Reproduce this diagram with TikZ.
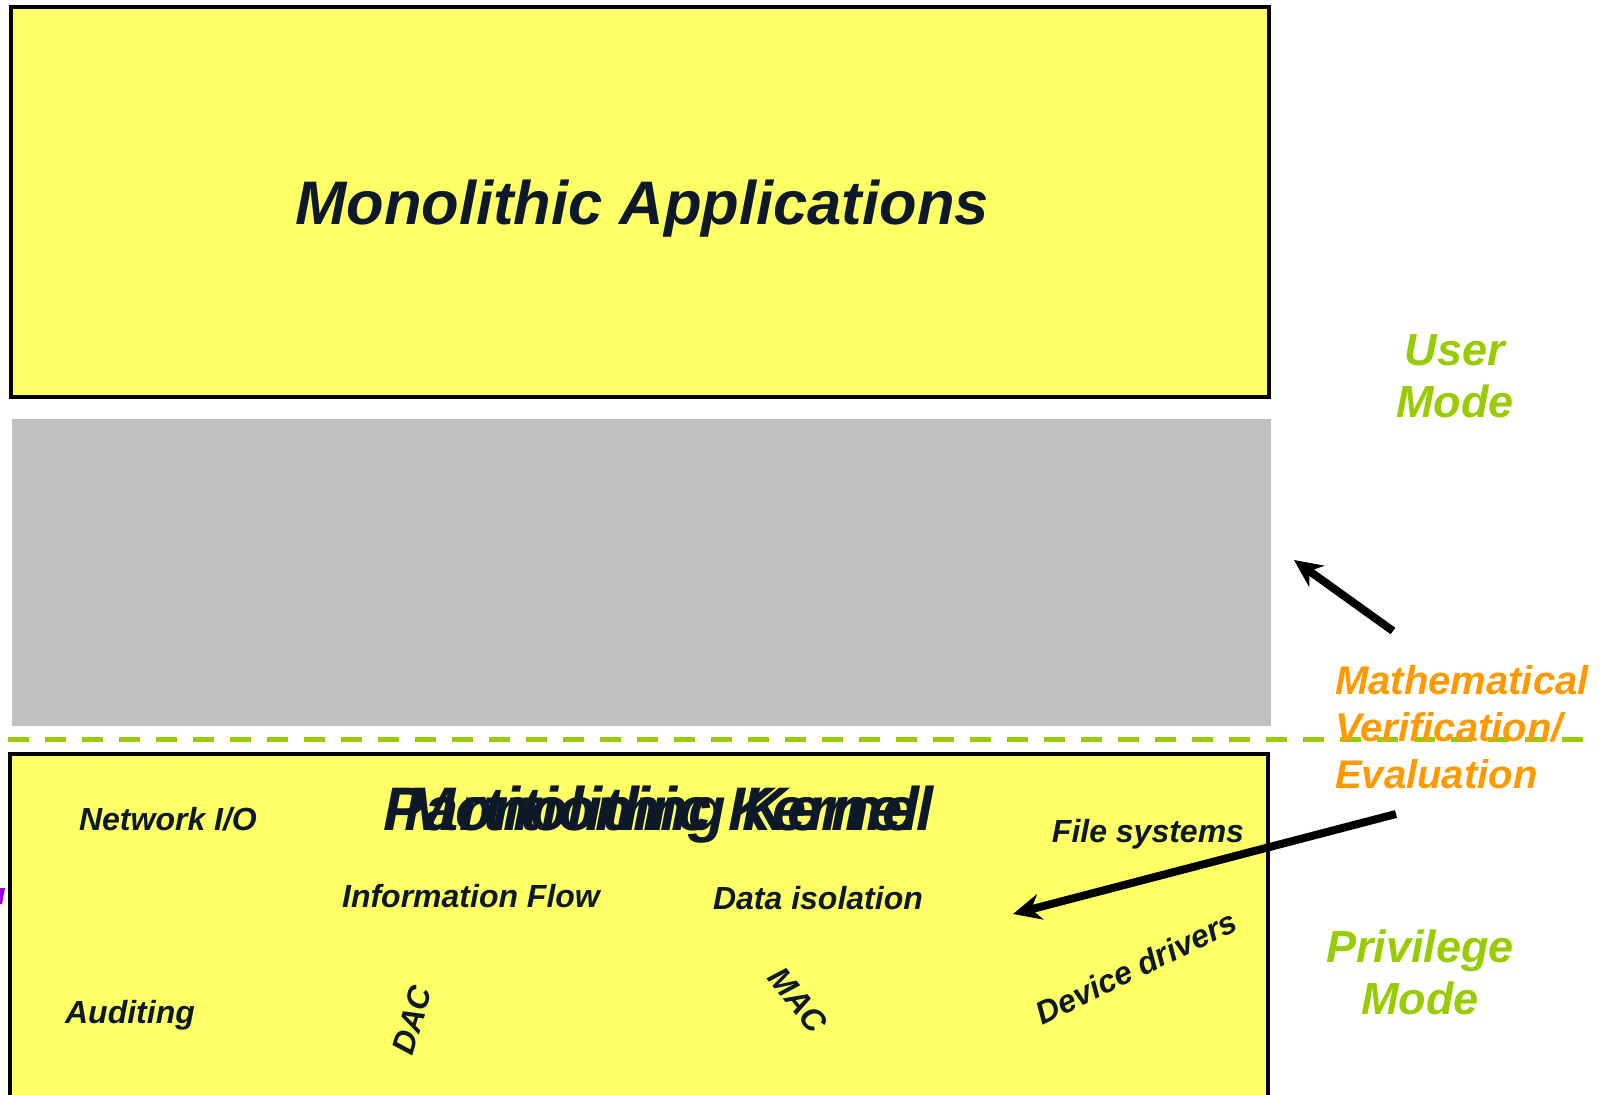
\documentclass[tikz,border=0pt]{standalone}
\usepackage{fontspec}
\setmainfont{Liberation Sans}
\usetikzlibrary{arrows.meta}
\definecolor{boxyellow}{RGB}{255,255,102}
\definecolor{layergray}{RGB}{192,192,192}
\definecolor{modegreen}{RGB}{153,204,0}
\definecolor{verifyorange}{RGB}{255,153,0}
\definecolor{inkdark}{RGB}{13,25,40}
\definecolor{markpurple}{RGB}{153,0,221}
\begin{document}
\begin{tikzpicture}[x=1pt,y=-1pt,
  layerbox/.style={draw=black,line width=3.5pt,fill=boxyellow},
  bigtitle/.style={font=\fontsize{61.5}{70}\selectfont\bfseries\itshape,text=inkdark,inner sep=0pt,anchor=base},
  service/.style={font=\fontsize{32}{36}\selectfont\bfseries\itshape,text=inkdark,inner sep=0pt},
  modelabel/.style={font=\fontsize{45}{54}\selectfont\bfseries\itshape,text=modegreen,inner sep=0pt,align=center},
  verifylabel/.style={font=\fontsize{40}{47}\selectfont\bfseries\itshape,text=verifyorange,inner sep=0pt,align=left},
  bigarrow/.style={line width=8pt,-{Stealth[length=28pt,width=26pt]}}]
\useasboundingbox (0,0) rectangle (1610,1095);
\begin{scope}
\clip (0,0) rectangle (1610,1095);
% user-mode application layer
\node[layerbox,minimum width=1258pt,minimum height=390pt,anchor=north west,inner sep=0pt] (apps) at (9,5) {};
\node[bigtitle] (appstitle) at (642,224) {Monolithic Applications};
% empty middle layer
\node[fill=layergray,minimum width=1259pt,minimum height=307pt,anchor=north west,inner sep=0pt] (middle) at (12,419) {};
% user / privilege boundary
\coordinate (sepL) at (8,739);
\coordinate (sepR) at (1592,739);
\draw[modegreen,line width=5pt,dash pattern=on 21pt off 16pt] (sepL) -- (sepR);
% kernel layer
\node[layerbox,minimum width=1258pt,minimum height=360pt,anchor=north west,inner sep=0pt] (kernel) at (8,752) {};
\node[bigtitle] (ktitleA) at (659,830) {Partitioning Kernel};
\node[bigtitle] (ktitleB) at (662,830) {Monolithic Kernel};
\node[service,anchor=base] (netio) at (168,830) {Network I/O};
\node[service,anchor=base] (infoflow) at (471,907) {Information Flow};
\node[service,anchor=base] (dataiso) at (818,909) {Data isolation};
\node[service,anchor=base] (filesys) at (1148,842) {File systems};
\node[service,anchor=base] (audit) at (130,1023) {Auditing};
\node[service,rotate=73] (dac) at (412,1020) {DAC};
\node[service,rotate=-51] (mac) at (798,1000) {MAC};
\node[service,rotate=26] (devdrv) at (1136,967) {Device drivers};
% clipped purple mark at the left edge
\fill[markpurple] (0,888) -- (5,888) -- (2,904) -- (0,904) -- cycle;
% side labels
\node[modelabel] (usermode) at (1455,376) {User\\[-2pt]Mode};
\node[modelabel] (privmode) at (1420,972) {Privilege\\[-2pt]Mode};
\node[verifylabel,anchor=north west] (verify) at (1335,665) {Mathematical\\Verification/\\Evaluation};
% arrows
\coordinate (upTail) at (1393,631);
\coordinate (upTip) at (1294,560);
\coordinate (downTail) at (1396,814);
\coordinate (downTip) at (1013,914);
\draw[bigarrow] (upTail) -- (upTip);
\draw[bigarrow] (downTail) -- (downTip);
\end{scope}
\end{tikzpicture}
\end{document}
